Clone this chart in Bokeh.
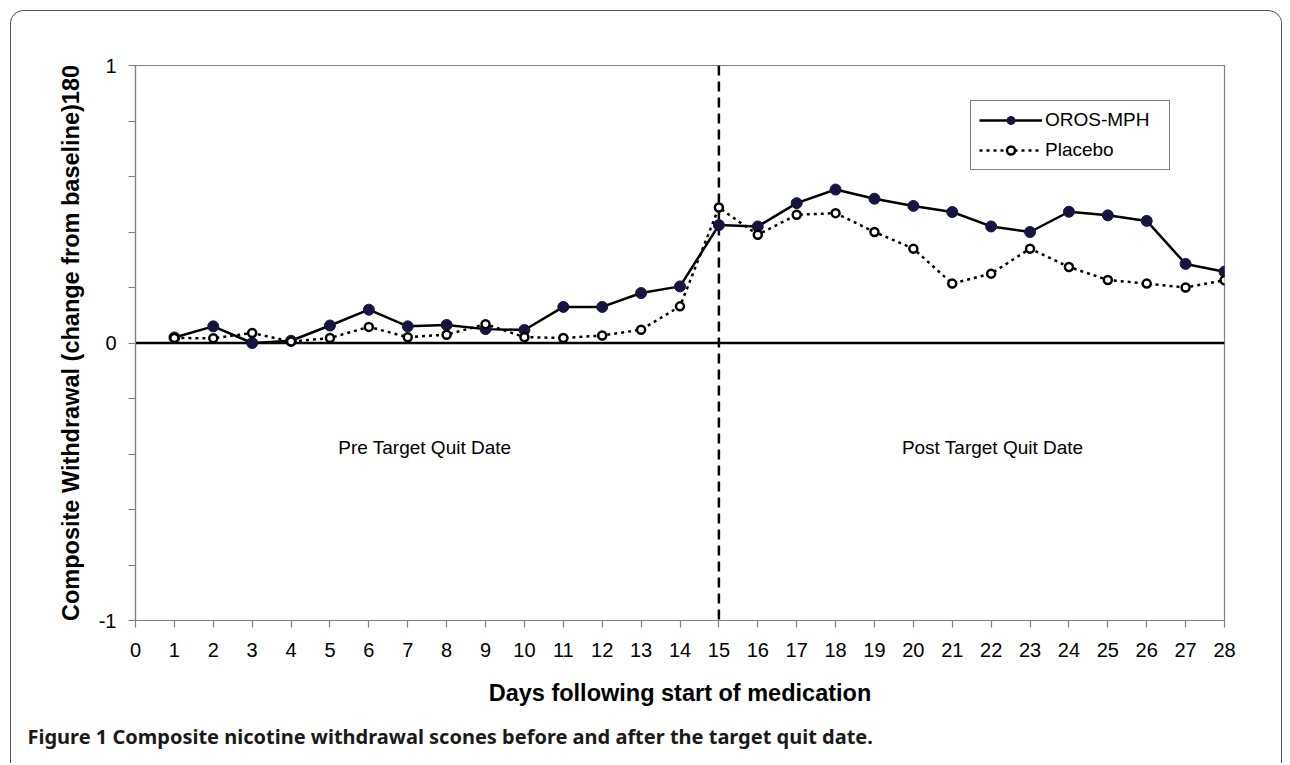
from bokeh.plotting import figure
from bokeh.models import (FixedTicker, Span, Legend, LegendItem, Title,
                          ColumnDataSource)
from bokeh.core.properties import value
from bokeh.embed import file_html
from bokeh.resources import INLINE

# ---------------- data ----------------
days = list(range(1, 29))
oros_mph = [0.020, 0.060, 0.000, 0.008, 0.063, 0.120, 0.060, 0.065, 0.050, 0.047,
            0.130, 0.130, 0.180, 0.204, 0.425, 0.420, 0.504, 0.553, 0.520, 0.494,
            0.472, 0.420, 0.400, 0.473, 0.460, 0.440, 0.285, 0.257]
placebo = [0.018, 0.017, 0.036, 0.005, 0.018, 0.058, 0.021, 0.030, 0.068, 0.021,
           0.018, 0.027, 0.048, 0.132, 0.488, 0.390, 0.462, 0.468, 0.400, 0.340,
           0.214, 0.250, 0.340, 0.274, 0.227, 0.214, 0.200, 0.226]
series_names = ["OROS-MPH", "Placebo"]

x_ticks = list(range(0, 29))
y_ticks = [-1.0, -0.8, -0.6, -0.4, -0.2, 0.0, 0.2, 0.4, 0.6, 0.8, 1.0]
y_tick_labels = {-1.0: "-1", 0.0: "0", 1.0: "1"}
quit_day = 15

region_names = ["Pre Target Quit Date", "Post Target Quit Date"]
region_x = [7.44, 22.04]
region_y = [-0.377, -0.377]

y_label = "Composite Withdrawal (change from baseline)180"
x_label = "Days following start of medication"
caption = "Figure 1 Composite nicotine withdrawal scones before and after the target quit date."

FONT = "Liberation Sans"
GRAY = "#808080"
NAVY = "#15153f"

# ---------------- figure ----------------
p = figure(width=1272, height=753, x_range=(0, 28), y_range=(-1, 1),
           output_backend="svg", toolbar_location=None,
           min_border_left=124, min_border_right=59,
           min_border_top=54, min_border_bottom=144)
p.background_fill_color = "white"
p.border_fill_color = "white"
p.xgrid.visible = False
p.ygrid.visible = False
p.outline_line_color = GRAY
p.outline_line_width = 1.2
# rounded outer frame of the figure panel (bottom edge is cut off in the original)
p.styles = {"margin": "10px 5px 0px 10px",
            "border": "1.5px solid #555555",
            "border-bottom": "none",
            "border-radius": "14px 14px 0px 0px",
            "overflow": "hidden"}

# axes
for ax in (p.xaxis[0], p.yaxis[0]):
    ax.axis_line_color = GRAY
    ax.axis_line_width = 1.2
    ax.major_tick_line_color = GRAY
    ax.major_tick_line_width = 1.2
    ax.minor_tick_line_color = None
    ax.major_tick_in = 0
    ax.major_tick_out = 7
    ax.major_label_text_font = FONT
    ax.major_label_text_font_size = "20px"
    ax.major_label_text_color = "black"
    ax.axis_label_text_font = FONT
    ax.axis_label_text_font_style = "bold"
    ax.axis_label_text_color = "black"

p.xaxis.ticker = FixedTicker(ticks=x_ticks)
p.xaxis.major_label_standoff = 15
p.xaxis.axis_label = x_label
p.xaxis.axis_label_text_font_size = "23.5px"
p.xaxis.axis_label_standoff = 20

p.yaxis.ticker = FixedTicker(ticks=y_ticks)
p.yaxis.major_label_overrides = {v: y_tick_labels.get(v, "") for v in y_ticks}
p.yaxis.major_label_standoff = 12
p.yaxis.major_label_orientation = "horizontal"
p.yaxis.axis_label = y_label
p.yaxis.axis_label_text_font_size = "23.5px"
p.yaxis.axis_label_standoff = 12

# reference lines
p.add_layout(Span(location=0, dimension="width", line_color="black",
                  line_width=2.5, level="underlay"))
p.add_layout(Span(location=quit_day, dimension="height", line_color="black",
                  line_width=2.5, line_dash="10 6", level="underlay"))

# series
src = ColumnDataSource(dict(day=days, oros=oros_mph, placebo=placebo))
l1 = p.line("day", "oros", source=src, line_color="black", line_width=2.5)
s1 = p.scatter("day", "oros", source=src, size=11, fill_color=NAVY,
               line_color=NAVY, line_width=1)
l2 = p.line("day", "placebo", source=src, line_color="black", line_width=2.5,
            line_dash="3 4")
s2 = p.scatter("day", "placebo", source=src, size=8, fill_color="white",
               line_color="black", line_width=2.5)

# region texts
rsrc = ColumnDataSource(dict(x=region_x, y=region_y, t=region_names))
p.text("x", "y", text="t", source=rsrc, text_font=value(FONT),
       text_font_size="19px", text_align="center", text_baseline="middle",
       text_color="black")

# legend
legend = Legend(items=[LegendItem(label=series_names[0], renderers=[l1, s1]),
                       LegendItem(label=series_names[1], renderers=[l2, s2])],
                location=(835, 450), orientation="vertical",
                padding=8, spacing=8, glyph_height=20, glyph_width=63,
                label_height=20, label_standoff=3, label_width=116,
                label_text_font=FONT, label_text_font_size="19px",
                label_text_color="black",
                border_line_color="black", border_line_width=1,
                background_fill_color="white", background_fill_alpha=1)
p.add_layout(legend)

# caption below the chart
p.add_layout(Title(text=caption, align="left", offset=-108,
                   text_font="Noto Sans", text_font_style="bold",
                   text_font_size="20px", text_color="#1a1a1a",
                   standoff=24), "below")

open("out.html", "w").write(file_html(p, INLINE))
